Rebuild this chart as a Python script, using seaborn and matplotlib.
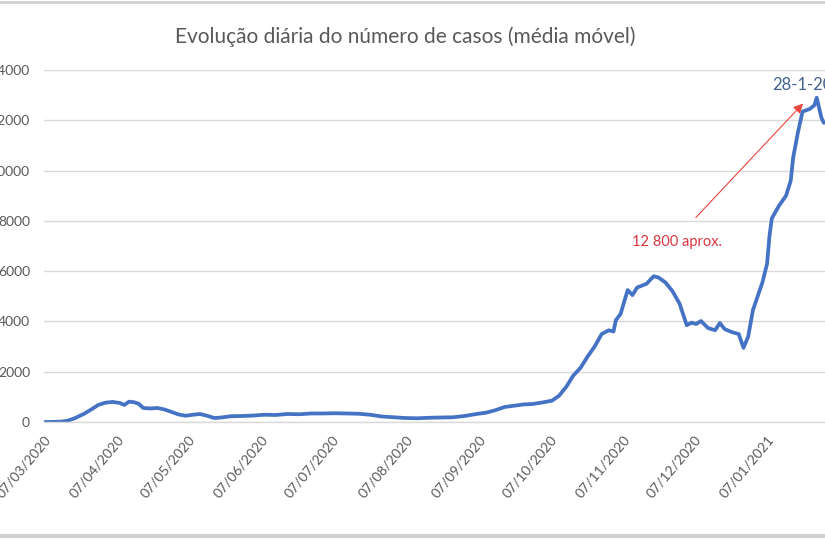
import pandas as pd
import seaborn as sns
import matplotlib.pyplot as plt
import matplotlib.dates as mdates
from matplotlib.lines import Line2D

# daily moving average of cases
dates = [
    '2020-03-07', '2020-03-10', '2020-03-14', '2020-03-17', '2020-03-20', '2020-03-24',
    '2020-03-27', '2020-03-30', '2020-04-02', '2020-04-05', '2020-04-08', '2020-04-10',
    '2020-04-12', '2020-04-14', '2020-04-16', '2020-04-18', '2020-04-21', '2020-04-24',
    '2020-04-27', '2020-04-30', '2020-05-03', '2020-05-06', '2020-05-09', '2020-05-12',
    '2020-05-15', '2020-05-18', '2020-05-21', '2020-05-25', '2020-05-30', '2020-06-04',
    '2020-06-08', '2020-06-13', '2020-06-18', '2020-06-23', '2020-06-28', '2020-07-03',
    '2020-07-08', '2020-07-13', '2020-07-18', '2020-07-23', '2020-07-28', '2020-08-02',
    '2020-08-07', '2020-08-12', '2020-08-17', '2020-08-22', '2020-08-27', '2020-09-01',
    '2020-09-06', '2020-09-10', '2020-09-14', '2020-09-18', '2020-09-22', '2020-09-26',
    '2020-09-30', '2020-10-04', '2020-10-08', '2020-10-11', '2020-10-14', '2020-10-17',
    '2020-10-20', '2020-10-23', '2020-10-26', '2020-10-29', '2020-11-01', '2020-11-03',
    '2020-11-04', '2020-11-06', '2020-11-09', '2020-11-11', '2020-11-13', '2020-11-17',
    '2020-11-20', '2020-11-22', '2020-11-25', '2020-11-28', '2020-12-01', '2020-12-04',
    '2020-12-06', '2020-12-08', '2020-12-10', '2020-12-13', '2020-12-16', '2020-12-18',
    '2020-12-20', '2020-12-23', '2020-12-26', '2020-12-28', '2020-12-30', '2021-01-01',
    '2021-01-03', '2021-01-05', '2021-01-07', '2021-01-08', '2021-01-09', '2021-01-12',
    '2021-01-15', '2021-01-17', '2021-01-18', '2021-01-20', '2021-01-22', '2021-01-25',
    '2021-01-27', '2021-01-28', '2021-01-30', '2021-01-31',
]
cases = [
    0, 5, 15, 50, 150, 330,
    500, 680, 770, 800, 760, 680,
    810, 790, 730, 560, 540, 560,
    500, 400, 300, 250, 290, 320,
    250, 160, 180, 230, 240, 260,
    290, 280, 320, 310, 340, 340,
    350, 340, 330, 290, 220, 190,
    160, 150, 170, 180, 190, 240,
    320, 370, 470, 600, 650, 700,
    720, 780, 850, 1050, 1400, 1850,
    2150, 2600, 3000, 3500, 3650, 3600,
    4050, 4300, 5250, 5050, 5350, 5500,
    5800, 5750, 5550, 5200, 4700, 3850,
    3950, 3900, 4020, 3740, 3650, 3940,
    3700, 3580, 3500, 2950, 3400, 4450,
    5000, 5550, 6300, 7400, 8100, 8600,
    9000, 9600, 10500, 11500, 12350, 12450,
    12600, 12900, 12100, 11900,
]

month_ticks = pd.date_range('2020-03-01', '2021-01-07', freq='MS') + pd.Timedelta(days=6)
y_ticks = list(range(0, 14001, 2000))

df = pd.DataFrame({'data': pd.to_datetime(dates), 'casos': cases})

sns.set_theme(style='white')
plt.rcParams['font.family'] = ['Lato', 'DejaVu Sans']

fig = plt.figure(figsize=(8.25, 5.39), dpi=100)
# the screenshot is cropped: the plot area runs past the right edge
ax = fig.add_axes([0.0533, 0.217, 1.0226, 0.653])

sns.lineplot(data=df, x='data', y='casos', ax=ax, color='#4472C4', linewidth=2.7)

ax.set_xlim(pd.Timestamp('2020-03-07'), pd.Timestamp('2021-02-27'))
ax.set_ylim(0, 14000)
ax.set_yticks(y_ticks)
ax.set_yticklabels([str(v) for v in y_ticks])
ax.set_xticks(month_ticks)
ax.xaxis.set_major_formatter(mdates.DateFormatter('%d/%m/%Y'))
ax.grid(axis='y', color='#D9D9D9', linewidth=1)
ax.set_axisbelow(True)
ax.set_xlabel('')
ax.set_ylabel('')

for side in ['left', 'right', 'top']:
    ax.spines[side].set_visible(False)
ax.spines['bottom'].set_color('#D9D9D9')
ax.spines['bottom'].set_linewidth(1)

ax.tick_params(axis='y', length=0, pad=10, labelsize=10, labelcolor='#595959')
ax.tick_params(axis='x', length=5, width=1, color='#D9D9D9', pad=3,
               labelsize=10, labelcolor='#595959')
for lbl in ax.get_xticklabels():
    lbl.set_rotation(50)
    lbl.set_ha('right')
    lbl.set_va('top')
    lbl.set_rotation_mode('anchor')

# annotations
ax.text(pd.Timestamp('2021-01-09'), 13400, '28-1-2021', color='#44618F',
        fontsize=12, ha='left', va='center')
ax.text(pd.Timestamp('2020-11-11'), 7150, '12 800 aprox.', color='#D9373F',
        fontsize=10.5, ha='left', va='center')
ax.annotate('', xy=(pd.Timestamp('2021-01-23'), 12750),
            xytext=(pd.Timestamp('2020-12-07'), 8050),
            arrowprops=dict(arrowstyle='-|>', color='#E8453C', lw=0.8,
                            mutation_scale=14))

fig.text(0.491, 0.931, 'Evolução diária do número de casos (média móvel)',
         ha='center', va='center', fontsize=15, color='#595959')

# chart frame lines at the top and bottom of the screenshot
fig.add_artist(Line2D([0, 1], [0.997, 0.997], color='#D0D0D0', linewidth=2))
fig.add_artist(Line2D([0, 1], [0.006, 0.006], color='#D0D0D0', linewidth=3))

fig.savefig('out.png', dpi=100)
